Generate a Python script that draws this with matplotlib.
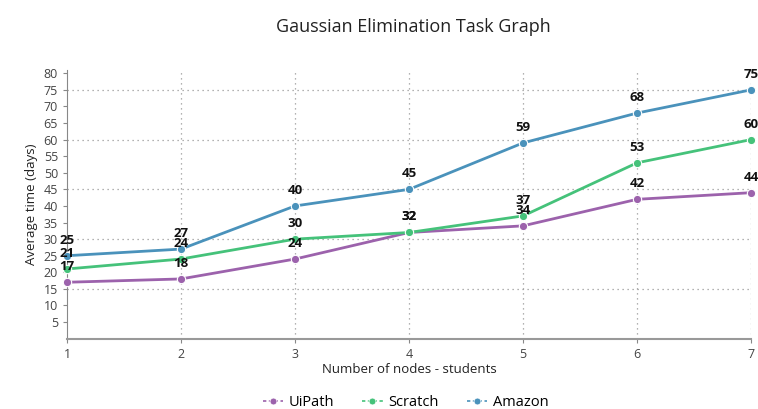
import matplotlib
matplotlib.use("Agg")
import matplotlib.pyplot as plt
from matplotlib.lines import Line2D

plt.rcParams['font.family'] = ['Open Sans', 'DejaVu Sans']

nodes = [1, 2, 3, 4, 5, 6, 7]
uipath = [17, 18, 24, 32, 34, 42, 44]
scratch = [21, 24, 30, 32, 37, 53, 60]
amazon = [25, 27, 40, 45, 59, 68, 75]

series = [
    ("UiPath", uipath, "#9c62ac"),
    ("Scratch", scratch, "#45c27a"),
    ("Amazon", amazon, "#4a92bb"),
]

fig = plt.figure(figsize=(7.58, 4.09), dpi=100)
ax = fig.add_axes([0.0884, 0.172, 0.9024, 0.657])

handles = []
for name, vals, col in series:
    ax.plot(nodes, vals, color=col, lw=2.0, marker='o', markersize=6,
            markeredgecolor='white', markeredgewidth=0.8, zorder=3, clip_on=False)
    for x, v in zip(nodes, vals):
        ax.annotate(str(v), (x, v), xytext=(0, 6.5), textcoords='offset points',
                    ha='center', va='bottom', fontsize=9.5, fontweight='bold',
                    color='#111111', zorder=4)
    handles.append(Line2D([], [], color=col, lw=1.2, ls=(0, (2, 1.5)), marker='o',
                          markersize=5, markeredgecolor='white', markeredgewidth=0.6,
                          label=name))

ax.set_xlim(1, 7)
ax.set_ylim(0, 81)
ax.set_xticks(nodes)
ax.set_yticks(range(5, 85, 5))

# dotted grid
for x in nodes[1:]:
    ax.axvline(x, color='#999999', ls=(0, (1, 3)), lw=0.9, zorder=1)
for y in range(15, 80, 15):
    ax.axhline(y, color='#999999', ls=(0, (1, 3)), lw=0.9, zorder=1)

for s in ['top', 'right']:
    ax.spines[s].set_visible(False)
ax.spines['left'].set_color('#888888')
ax.spines['bottom'].set_color('#999999')
ax.spines['bottom'].set_linewidth(1.5)
ax.tick_params(axis='both', colors='#888888', labelcolor='#444444', labelsize=9, length=3)

ax.set_xlabel("Number of nodes - students", fontsize=9.5, color='#222222', labelpad=2)
ax.set_ylabel("Average time (days)", fontsize=9.5, color='#222222', labelpad=4)
fig.text(0.545, 0.934, "Gaussian Elimination Task Graph", ha='center', va='center',
         fontsize=13, color='#222222')

ax.legend(handles=handles, loc='upper center', bbox_to_anchor=(0.495, -0.16), ncol=3,
          frameon=False, fontsize=10.5, handlelength=1.4, columnspacing=1.9,
          handletextpad=0.4)

fig.savefig("out.png", dpi=100)
